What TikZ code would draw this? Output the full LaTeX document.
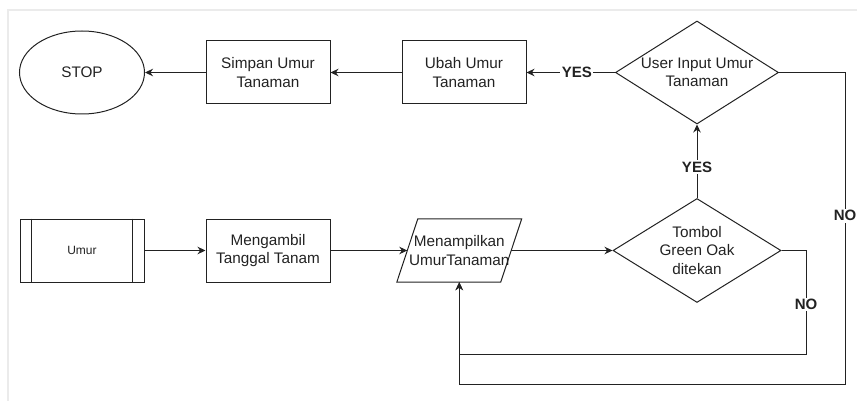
\documentclass[tikz,border=0pt]{standalone}
\usepackage{fontspec}
\setmainfont{Liberation Sans}
\usetikzlibrary{shapes.geometric,arrows.meta}
\definecolor{ln}{HTML}{222222}
\definecolor{frame}{HTML}{EBEBEB}
\begin{document}
\begin{tikzpicture}[x=1pt,y=-1pt,
  every node/.style={font=\fontsize{15.3}{18.5}\selectfont, text=ln},
  box/.style={draw=ln, line width=1, rectangle, minimum width=124, minimum height=63, align=center, inner sep=0},
  dec/.style={draw=ln, line width=1, diamond, aspect=1.6, align=center, inner sep=0},
  arr/.style={draw=ln, line width=1, -{Stealth[length=8,width=7.5]}},
  lbl/.style={fill=white, font=\fontsize{15}{18}\selectfont\bfseries, inner sep=1.5}]
\useasboundingbox (0,0) rectangle (857,401);
\draw[frame, line width=2] (8,401) -- (8,10) -- (857,10);

\node[draw=ln, line width=1, ellipse, minimum width=125, minimum height=83, inner sep=0] (stop) at (82,72.5) {STOP};
\node[box] (simpan) at (268,72.5) {Simpan Umur\\Tanaman};
\node[box] (ubah) at (464,72.5) {Ubah Umur\\Tanaman};
\node[dec, minimum width=163, minimum height=103] (uinput) at (697,72.5) {User Input Umur\\Tanaman};

\node[box, font=\fontsize{12}{14}\selectfont] (umur) at (82,250.5) {Umur};
\draw[ln, line width=1] ([xshift=12]umur.north west) -- ([xshift=12]umur.south west);
\draw[ln, line width=1] ([xshift=-12]umur.north east) -- ([xshift=-12]umur.south east);
\node[box] (ambil) at (268,250.5) {Mengambil\\Tanggal Tanam};
\node[rectangle, minimum width=103.5, minimum height=63, inner sep=0, align=center] (tampil) at (459.25,250.5) {Menampilkan\\UmurTanaman};
\draw[ln, line width=1] ([xshift=-10.5]tampil.south west) -- ([xshift=10.5]tampil.north west) -- ([xshift=10.5]tampil.north east) -- ([xshift=-10.5]tampil.south east) -- cycle;
\node[dec, minimum width=168, minimum height=104] (tombol) at (697,250.5) {Tombol\\Green Oak\\ditekan};

\coordinate (c1) at (806,354);
\coordinate (c2) at (845,384);

\draw[arr] (uinput.west) -- node[lbl, pos=0.43]{YES} (ubah.east);
\draw[arr] (ubah.west) -- (simpan.east);
\draw[arr] (simpan.west) -- (stop.east);
\draw[arr] (umur.east) -- (ambil.west);
\draw[arr] (ambil.east) -- (tampil.west);
\draw[arr] (tampil.east) -- (tombol.west);
\draw[arr] (tombol.north) -- node[lbl, pos=0.42]{YES} (uinput.south);
\draw[arr] (tombol.east) -| node[lbl, pos=0.76]{NO} (c1) -| (tampil.south);
\draw[arr] (uinput.east) -| node[lbl, pos=0.73]{NO} (c2) -| (tampil.south);
\end{tikzpicture}
\end{document}
